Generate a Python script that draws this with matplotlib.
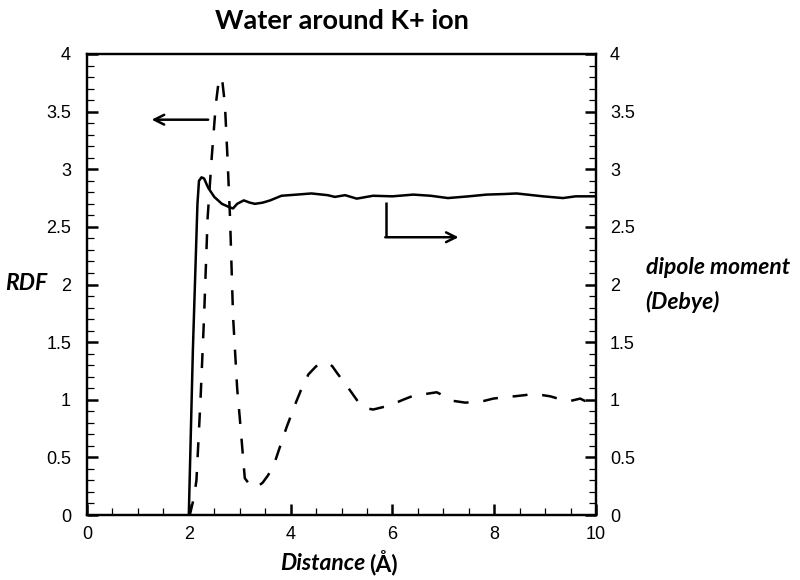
import matplotlib
matplotlib.use("Agg")
import matplotlib.pyplot as plt
from matplotlib.ticker import MultipleLocator, FuncFormatter

# RDF (dashed, left axis)
rdf_x = [2.0, 2.02, 2.1, 2.15, 2.23, 2.30, 2.37, 2.45, 2.53, 2.58, 2.62, 2.66, 2.71, 2.76,
         2.81, 2.87, 2.95, 3.0, 3.10, 3.2, 3.33, 3.45, 3.55, 3.66, 3.82, 3.92, 4.09, 4.2,
         4.35, 4.5, 4.62, 4.74, 4.82, 4.9, 5.05, 5.17, 5.33, 5.45, 5.62, 5.85, 6.05, 6.21,
         6.44, 6.65, 6.87, 7.03, 7.2, 7.43, 7.62, 7.8, 7.98, 8.17, 8.4, 8.6, 8.76, 8.95,
         9.1, 9.33, 9.5, 9.69, 9.78, 9.9, 10.0]
rdf_y = [0.0, 0.0, 0.15, 0.3, 1.0, 1.72, 2.58, 3.10, 3.56, 3.74, 3.80, 3.76, 3.56, 3.10,
         2.58, 1.72, 1.1, 0.85, 0.32, 0.26, 0.24, 0.28, 0.34, 0.42, 0.63, 0.76, 0.96, 1.08,
         1.22, 1.29, 1.31, 1.32, 1.29, 1.24, 1.15, 1.08, 0.98, 0.93, 0.915, 0.94, 0.97, 1.0,
         1.04, 1.05, 1.065, 1.03, 0.99, 0.975, 0.98, 0.99, 1.01, 1.02, 1.03, 1.04, 1.05, 1.04,
         1.03, 1.0, 0.99, 1.01, 0.99, 1.0, 1.0]

# Dipole moment (solid, right axis)
dip_x = [2.0, 2.08, 2.17, 2.2, 2.25, 2.3, 2.38, 2.5, 2.65, 2.8, 2.87, 2.95, 3.08, 3.2, 3.3,
         3.45, 3.6, 3.82, 4.12, 4.41, 4.73, 4.87, 5.07, 5.3, 5.62, 6.0, 6.41, 6.75, 7.09,
         7.5, 7.85, 8.2, 8.44, 8.96, 9.35, 9.6, 9.88, 10.0]
dip_y = [0.0, 1.43, 2.7, 2.9, 2.93, 2.92, 2.84, 2.76, 2.70, 2.67, 2.66, 2.70, 2.73, 2.71, 2.70,
         2.71, 2.73, 2.77, 2.78, 2.79, 2.775, 2.76, 2.775, 2.745, 2.77, 2.765, 2.78, 2.77, 2.75,
         2.765, 2.78, 2.785, 2.79, 2.765, 2.75, 2.765, 2.765, 2.765]

title = "Water around K+ ion"

fig = plt.figure(figsize=(8, 5.8), dpi=100)
ax = fig.add_axes([87/800, 65/580, 509/800, 461/580])
ax2 = ax.twinx()

ax.plot(rdf_x, rdf_y, color="black", lw=1.8, dashes=(6, 5.9))
ax2.plot(dip_x, dip_y, color="black", lw=1.8)

for a in (ax, ax2):
    a.set_xlim(0, 10)
    a.set_ylim(0, 4)
    a.yaxis.set_major_locator(MultipleLocator(0.5))
    a.yaxis.set_minor_locator(MultipleLocator(0.1))
    for s in a.spines.values():
        s.set_linewidth(1.6)
ax.xaxis.set_major_locator(MultipleLocator(2))
ax.xaxis.set_minor_locator(MultipleLocator(0.5))

tick_font = "Liberation Sans"
ax.tick_params(axis="x", which="major", direction="in", length=8, width=1.8,
               labelsize=13, top=False, pad=8)
ax.tick_params(axis="y", which="major", direction="in", length=8, width=1.8,
               labelsize=13, right=False, pad=11.5)
ax.tick_params(axis="both", which="minor", direction="in", length=5, width=0.9,
               top=False, right=False)
ax2.tick_params(axis="y", which="major", direction="in", length=8, width=1.8, labelsize=13, pad=10)
ax2.tick_params(axis="y", which="minor", direction="in", length=5, width=0.9)
for lab in ax.get_xticklabels() + ax.get_yticklabels() + ax2.get_yticklabels():
    lab.set_fontfamily(tick_font)

def fmt(v, p):
    return "%g" % v
for a in (ax, ax2):
    a.yaxis.set_major_formatter(FuncFormatter(fmt))
ax.xaxis.set_major_formatter(FuncFormatter(fmt))

# arrows
head = "->,head_length=0.7,head_width=0.35"
ax.annotate("", xy=(1.27, 3.43), xytext=(2.38, 3.43),
            arrowprops=dict(arrowstyle=head, lw=1.8, color="black", shrinkA=0, shrinkB=0))
ax.plot([5.87, 5.87], [2.72, 2.41], color="black", lw=1.8, solid_capstyle="butt")
ax.annotate("", xy=(7.30, 2.41), xytext=(5.86, 2.41),
            arrowprops=dict(arrowstyle=head, lw=1.8, color="black", shrinkA=0, shrinkB=0))

lab_font = "Lato"
fig.text(342/800, 1 - 21/580, title, ha="center", va="center", fontsize=19.5,
         fontweight="bold", family=lab_font)
fig.text(26/800, 1 - 284/580, "RDF", ha="center", va="center", fontsize=16.5,
         fontweight="bold", fontstyle="italic", family=lab_font)
fig.text(790/800, 1 - 268/580, "dipole moment", ha="right", va="center", fontsize=16.5,
         fontweight="bold", fontstyle="italic", family=lab_font)
fig.text(720/800, 1 - 302/580, "(Debye)", ha="right", va="center", fontsize=16.5,
         fontweight="bold", fontstyle="italic", family=lab_font)
fig.text(365/800, 1 - 563/580, "Distance", ha="right", va="center", fontsize=16.5,
         fontweight="bold", fontstyle="italic", family=lab_font)
fig.text(369/800, 1 - 563/580, "(Å)", ha="left", va="center", fontsize=16.5,
         fontweight="bold", family=lab_font)

fig.savefig("out.png", dpi=100)
